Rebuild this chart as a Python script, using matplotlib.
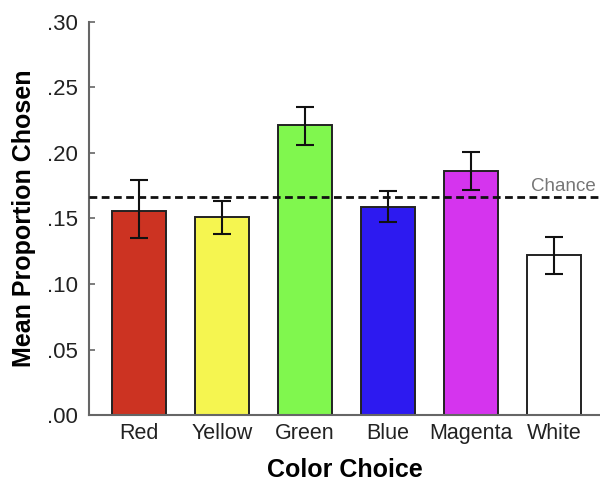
import matplotlib.pyplot as plt
import numpy as np

plt.rcParams["font.family"] = ["Liberation Sans", "DejaVu Sans"]

# mean proportion of trials each colour was picked, with error bar ends
colors = ["Red", "Yellow", "Green", "Blue", "Magenta", "White"]
means = [0.156, 0.151, 0.221, 0.159, 0.186, 0.122]
err_hi = [0.179, 0.163, 0.235, 0.171, 0.201, 0.136]
err_lo = [0.135, 0.138, 0.206, 0.147, 0.172, 0.108]
fills = ["#cc3322", "#f5f550", "#80f74e", "#2d1af0", "#d534ee", "#ffffff"]
chance = 1 / 6

yticks = [0.0, 0.05, 0.10, 0.15, 0.20, 0.25, 0.30]
yticklabels = [".00", ".05", ".10", ".15", ".20", ".25", ".30"]

means = np.array(means)
yerr = [means - np.array(err_lo), np.array(err_hi) - means]
x = np.arange(len(colors))

fig = plt.figure(figsize=(6, 4.86), dpi=100)
ax = fig.add_axes([0.148, 0.146, 0.852, 0.809])

ax.bar(x, means, width=0.65, color=fills, edgecolor="#222222", linewidth=1.4, zorder=2)
ax.errorbar(x, means, yerr=yerr, fmt="none", ecolor="#111111", elinewidth=1.5,
            capsize=6.5, capthick=1.5, zorder=3)

ax.axhline(chance, color="#111111", linestyle=(0, (2.8, 1.6)), linewidth=2, zorder=4)
ax.text(5.5, chance + 0.0015, "Chance", color="#777777", fontsize=13.5,
        ha="right", va="bottom")

ax.set_xlim(-0.6, 5.55)
ax.set_ylim(0, 0.30)
ax.set_xticks(x)
ax.set_xticklabels(colors, fontsize=15.5, color="#222222")
ax.set_yticks(yticks)
ax.set_yticklabels(yticklabels, fontsize=16, color="#222222")
ax.tick_params(axis="y", direction="in", length=4, width=1.2, color="#666666", pad=8)
ax.tick_params(axis="x", length=0, pad=6)

for side in ["top", "right"]:
    ax.spines[side].set_visible(False)
for side in ["left", "bottom"]:
    ax.spines[side].set_color("#666666")
    ax.spines[side].set_linewidth(1.5)

ax.set_xlabel("Color Choice", fontsize=18, fontweight="bold", labelpad=10)
ax.set_ylabel("Mean Proportion Chosen", fontsize=18, fontweight="bold", labelpad=8)

fig.savefig("out.png", dpi=100)
